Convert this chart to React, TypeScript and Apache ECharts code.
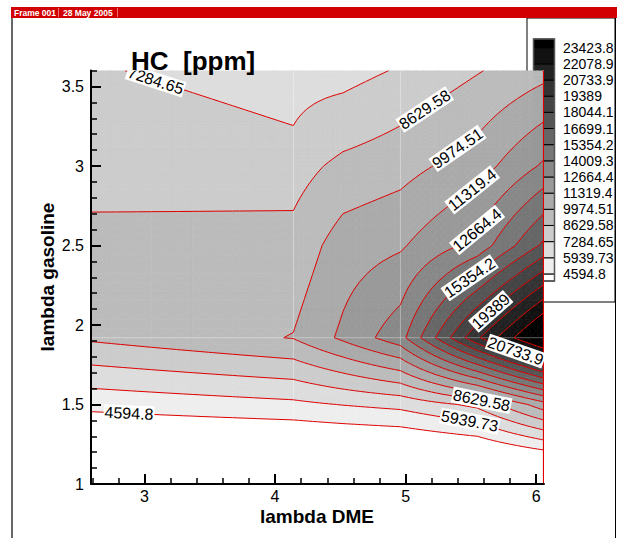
import React, { useEffect, useRef } from "react";
import * as echarts from "echarts";

// ---- data ----
const lambdaDME = [2.59, 4.14, 4.52, 4.96, 5.55, 6.06];
const lambdaGasoline = [1.0, 1.5, 1.92, 2.5, 3.0, 3.25, 3.6];
const hcAt100 = [420, 300, 180, 120, 60, 0];
const hcAt150 = [5007, 5628, 5988, 6334, 7617, 10734];
const hcAt192 = [8850, 10030, 11590, 13505, 20500, 25830];
const hcAt250 = [9100, 9070, 10630, 11150, 13160, 17000];
const hcAt300 = [7979, 8068, 8990, 9470, 10670, 12887];
const hcAt325 = [7800, 7290, 7987, 8640, 9783, 11487];
const hcAt360 = [7370, 6860, 6815, 7405, 8540, 9526];
const hcRows = [hcAt100, hcAt150, hcAt192, hcAt250, hcAt300, hcAt325, hcAt360];

const contourLevels = [4594.8, 5939.73, 7284.65, 8629.58, 9974.51, 11319.4, 12664.4, 14009.3, 15354.2, 16699.1, 18044.1, 19389, 20733.9, 22078.9, 23423.8];
const levelTexts = ["4594.8", "5939.73", "7284.65", "8629.58", "9974.51", "11319.4", "12664.4", "14009.3", "15354.2", "16699.1", "18044.1", "19389", "20733.9", "22078.9", "23423.8"];

const xMajorTicks = [3, 4, 5, 6];
const xMinorTicks = [2.6, 2.8, 3.2, 3.4, 3.6, 3.8, 4.2, 4.4, 4.6, 4.8, 5.2, 5.4, 5.6, 5.8, 6.0];
const yMajorTicks = [1, 1.5, 2, 2.5, 3, 3.5];
const yMinorTicks = [1.1, 1.2, 1.3, 1.4, 1.6, 1.7, 1.8, 1.9, 2.1, 2.2, 2.3, 2.4, 2.6, 2.7, 2.8, 2.9, 3.1, 3.2, 3.3, 3.4, 3.6];

// contour label anchors: level index and approximate place (data units)
const labelLevel = [2, 3, 4, 5, 6, 8, 11, 12, 3, 1, 0];
const labelAtX = [3.08, 5.15, 5.39, 5.52, 5.51, 5.58, 5.70, 5.86, 5.58, 5.50, 2.83];
const labelAtY = [3.56, 3.37, 3.11, 2.86, 2.60, 2.21, 2.04, 1.89, 1.51, 1.39, 1.43];

const seamX = [4.14, 4.96];
const seamY = [1.92];

const X_MIN = 2.59, X_MAX = 6.06, Y_MIN = 1, Y_MAX = 3.6;
const FONT = "'Liberation Sans', Arial, Helvetica, sans-serif";

const grayOf = (k: number) => {
  const g = Math.max(0, 255 - 17 * k);
  return `rgb(${g},${g},${g})`;
};
const bandOf = (z: number) => {
  let k = 0;
  while (k < contourLevels.length && z >= contourLevels[k]) k++;
  return k;
};

type P = [number, number, number];

function clip(poly: P[], c: number, keepAbove: boolean): P[] {
  const out: P[] = [];
  const n = poly.length;
  for (let i = 0; i < n; i++) {
    const a = poly[i];
    const b = poly[(i + 1) % n];
    const ina = keepAbove ? a[2] >= c : a[2] <= c;
    const inb = keepAbove ? b[2] >= c : b[2] <= c;
    if (ina) out.push(a);
    if (ina !== inb) {
      const t = (c - a[2]) / (b[2] - a[2]);
      out.push([a[0] + t * (b[0] - a[0]), a[1] + t * (b[1] - a[1]), c]);
    }
  }
  return out;
}

function chain(segs: number[][][]): number[][][] {
  const key = (p: number[]) => Math.round(p[0] * 50) + "," + Math.round(p[1] * 50);
  const map = new Map<string, number[]>();
  segs.forEach((s, i) => {
    for (const p of s) {
      const k = key(p);
      if (!map.has(k)) map.set(k, []);
      map.get(k)!.push(i);
    }
  });
  const used = new Array(segs.length).fill(false);
  const lines: number[][][] = [];
  for (let i = 0; i < segs.length; i++) {
    if (used[i]) continue;
    used[i] = true;
    let line = [segs[i][0], segs[i][1]];
    for (let dir = 0; dir < 2; dir++) {
      for (;;) {
        const end = line[line.length - 1];
        const ek = key(end);
        const cand = (map.get(ek) || []).find((j) => !used[j]);
        if (cand === undefined) break;
        used[cand] = true;
        const s = segs[cand];
        line.push(key(s[0]) === ek ? s[1] : s[0]);
      }
      line.reverse();
    }
    lines.push(line);
  }
  return lines;
}

function renderContour(_params: any, api: any) {
  const children: any[] = [];
  const NS = 10;
  const segs: number[][][][] = contourLevels.map(() => []);

  const tri = (t: P[]) => {
    const zs = t.map((p) => p[2]);
    const zmin = Math.min(...zs), zmax = Math.max(...zs);
    const kmin = bandOf(zmin), kmax = bandOf(zmax);
    for (let k = kmin; k <= kmax; k++) {
      let poly: P[] = t;
      if (k > 0) poly = clip(poly, contourLevels[k - 1], true);
      if (poly.length >= 3 && k < contourLevels.length) poly = clip(poly, contourLevels[k], false);
      if (poly.length >= 3) {
        const col = grayOf(k);
        children.push({
          type: "polygon",
          silent: true,
          shape: { points: poly.map((p) => [p[0], p[1]]) },
          style: { fill: col, stroke: col, lineWidth: 0.7 },
        });
      }
    }
    for (let m = 0; m < contourLevels.length; m++) {
      const c = contourLevels[m];
      if (c <= zmin || c >= zmax) continue;
      const pts: number[][] = [];
      for (let e = 0; e < 3; e++) {
        const a = t[e], b = t[(e + 1) % 3];
        if ((a[2] < c) !== (b[2] < c)) {
          const u = (c - a[2]) / (b[2] - a[2]);
          pts.push([a[0] + u * (b[0] - a[0]), a[1] + u * (b[1] - a[1])]);
        }
      }
      if (pts.length === 2) segs[m].push(pts);
    }
  };

  for (let j = 0; j < lambdaGasoline.length - 1; j++) {
    for (let i = 0; i < lambdaDME.length - 1; i++) {
      const z00 = hcRows[j][i], z10 = hcRows[j][i + 1], z01 = hcRows[j + 1][i], z11 = hcRows[j + 1][i + 1];
      const grid: P[][] = [];
      for (let a = 0; a <= NS; a++) {
        const row: P[] = [];
        const v = a / NS;
        for (let b = 0; b <= NS; b++) {
          const u = b / NS;
          const x = lambdaDME[i] + u * (lambdaDME[i + 1] - lambdaDME[i]);
          const y = lambdaGasoline[j] + v * (lambdaGasoline[j + 1] - lambdaGasoline[j]);
          const z = z00 * (1 - u) * (1 - v) + z10 * u * (1 - v) + z01 * (1 - u) * v + z11 * u * v;
          const px = api.coord([x, y]);
          row.push([px[0], px[1], z]);
        }
        grid.push(row);
      }
      for (let a = 0; a < NS; a++) {
        for (let b = 0; b < NS; b++) {
          const p00 = grid[a][b], p10 = grid[a][b + 1], p01 = grid[a + 1][b], p11 = grid[a + 1][b + 1];
          tri([p00, p10, p11]);
          tri([p00, p11, p01]);
        }
      }
    }
  }

  // faint cell seams
  for (const sx of seamX) {
    const p1 = api.coord([sx, Y_MIN]), p2 = api.coord([sx, Y_MAX]);
    children.push({ type: "line", silent: true, shape: { x1: p1[0], y1: p1[1], x2: p2[0], y2: p2[1] }, style: { stroke: "rgba(255,255,255,0.35)", lineWidth: 1 } });
  }
  for (const sy of seamY) {
    const p1 = api.coord([X_MIN, sy]), p2 = api.coord([X_MAX, sy]);
    children.push({ type: "line", silent: true, shape: { x1: p1[0], y1: p1[1], x2: p2[0], y2: p2[1] }, style: { stroke: "rgba(255,255,255,0.35)", lineWidth: 1 } });
  }

  const chained = segs.map((s) => chain(s));
  chained.forEach((lines) => {
    lines.forEach((line) => {
      children.push({
        type: "polyline",
        silent: true,
        shape: { points: line },
        style: { stroke: "#e00000", lineWidth: 1, fill: null, lineJoin: "round" },
      });
    });
  });

  // right boundary line
  {
    const p1 = api.coord([X_MAX, Y_MIN]), p2 = api.coord([X_MAX, Y_MAX]);
    children.push({ type: "line", silent: true, shape: { x1: p1[0] - 0.5, y1: p1[1], x2: p2[0] - 0.5, y2: p2[1] }, style: { stroke: "#e00000", lineWidth: 1.2 } });
  }

  // contour labels
  for (let n = 0; n < labelLevel.length; n++) {
    const m = labelLevel[n];
    const target = api.coord([labelAtX[n], labelAtY[n]]);
    let best: number[] | null = null;
    let bestD = Infinity;
    let ang = 0;
    for (const line of chained[m]) {
      for (let q = 0; q < line.length; q++) {
        const d = Math.hypot(line[q][0] - target[0], line[q][1] - target[1]);
        if (d < bestD) {
          bestD = d;
          best = line[q];
          const qa = line[Math.max(0, q - 3)], qb = line[Math.min(line.length - 1, q + 3)];
          ang = Math.atan2(-(qb[1] - qa[1]), qb[0] - qa[0]);
        }
      }
    }
    if (!best) continue;
    if (ang > Math.PI / 2) ang -= Math.PI;
    if (ang < -Math.PI / 2) ang += Math.PI;
    children.push({
      type: "text",
      silent: true,
      x: best[0],
      y: best[1],
      rotation: ang,
      style: {
        text: levelTexts[m],
        fill: "#000",
        font: `16px ${FONT}`,
        align: "center",
        verticalAlign: "middle",
        backgroundColor: "#fff",
        padding: [0, 1, 0, 1],
      },
    });
  }

  return { type: "group", children };
}

function buildLegend() {
  const els: any[] = [];
  const barX = 533.5, barW = 21;
  const top = 39, first = 47.7, step = 16.16, bottom = 281;
  const nL = contourLevels.length;
  const yOfLevel = (m: number) => first + (nL - 1 - m) * step;
  for (let k = 0; k <= nL; k++) {
    const yTop = k === nL ? top : yOfLevel(k);
    const yBot = k === 0 ? bottom : yOfLevel(k - 1);
    els.push({ type: "rect", shape: { x: barX, y: yTop, width: barW, height: yBot - yTop }, style: { fill: grayOf(k), stroke: "#000", lineWidth: 1 } });
  }
  els.push({ type: "rect", shape: { x: barX, y: top, width: barW, height: bottom - top }, style: { fill: null, stroke: "#555", lineWidth: 1.5 } });
  for (let m = 0; m < nL; m++) {
    els.push({ type: "text", x: 563, y: yOfLevel(m), style: { text: levelTexts[m], fill: "#000", font: `14px ${FONT}`, align: "left", verticalAlign: "middle" } });
  }
  els.push({ type: "rect", shape: { x: 527, y: 18, width: 88, height: 284 }, style: { fill: null, stroke: "#000", lineWidth: 1 } });
  return els;
}

export default function App() {
  const ref = useRef<HTMLDivElement>(null);
  useEffect(() => {
    if (!ref.current) return;
    const chart = echarts.init(ref.current, null, { renderer: "svg" });
    const option: any = {
      animation: false,
      backgroundColor: "#fff",
      grid: { left: 91, right: 73, top: 70.6, bottom: 54, containLabel: false },
      xAxis: [
        {
          type: "value", min: X_MIN, max: X_MAX, position: "bottom", z: 10,
          axisLine: { show: true, onZero: false, lineStyle: { color: "#000", width: 2 } },
          axisTick: { show: true, inside: true, length: 10, customValues: xMajorTicks, lineStyle: { color: "#000", width: 2 } },
          axisLabel: { show: true, customValues: xMajorTicks, color: "#000", fontSize: 16, fontFamily: FONT, margin: 4 },
          splitLine: { show: false },
        },
        {
          type: "value", min: X_MIN, max: X_MAX, position: "bottom", z: 10,
          axisLine: { show: false, onZero: false },
          axisTick: { show: true, inside: true, length: 6, customValues: xMinorTicks, lineStyle: { color: "#000", width: 1.5 } },
          axisLabel: { show: false },
          splitLine: { show: false },
        },
      ],
      yAxis: [
        {
          type: "value", min: Y_MIN, max: Y_MAX, position: "left", z: 10,
          axisLine: { show: true, onZero: false, lineStyle: { color: "#000", width: 2 } },
          axisTick: { show: true, inside: true, length: 10, customValues: yMajorTicks, lineStyle: { color: "#000", width: 2 } },
          axisLabel: { show: true, customValues: yMajorTicks, color: "#000", fontSize: 16, fontFamily: FONT, margin: 7 },
          splitLine: { show: false },
        },
        {
          type: "value", min: Y_MIN, max: Y_MAX, position: "left", z: 10,
          axisLine: { show: false, onZero: false },
          axisTick: { show: true, inside: true, length: 6, customValues: yMinorTicks, lineStyle: { color: "#000", width: 1.5 } },
          axisLabel: { show: false },
          splitLine: { show: false },
        },
      ],
      series: [
        {
          type: "custom",
          xAxisIndex: 0,
          yAxisIndex: 0,
          clip: true,
          silent: true,
          z: 1,
          data: [[X_MIN, Y_MIN]],
          renderItem: renderContour,
        },
      ],
      graphic: [
        { type: "rect", z: 100, shape: { x: 11, y: 7, width: 606, height: 11 }, style: { fill: "#d20000" } },
        { type: "text", z: 101, x: 14, y: 12.8, style: { text: "Frame 001", fill: "#fff", font: `bold 8.5px ${FONT}`, verticalAlign: "middle" } },
        { type: "rect", z: 101, shape: { x: 58, y: 8, width: 0.8, height: 9 }, style: { fill: "#f09090" } },
        { type: "text", z: 101, x: 63, y: 12.8, style: { text: "28 May 2005", fill: "#fff", font: `bold 8.5px ${FONT}`, verticalAlign: "middle" } },
        { type: "rect", z: 101, shape: { x: 117, y: 8, width: 0.8, height: 9 }, style: { fill: "#f09090" } },
        { type: "line", z: 100, shape: { x1: 12, y1: 18, x2: 12, y2: 538 }, style: { stroke: "#000", lineWidth: 1.2 } },
        { type: "line", z: 100, shape: { x1: 615.5, y1: 18, x2: 615.5, y2: 538 }, style: { stroke: "#000", lineWidth: 1 } },
        { type: "text", z: 100, x: 131, y: 48, style: { text: "HC  [ppm]", fill: "#000", font: `bold 26px ${FONT}`, verticalAlign: "alphabetic" } },
        { type: "text", z: 100, x: 317, y: 516, style: { text: "lambda DME", fill: "#000", font: `bold 19px ${FONT}`, align: "center", verticalAlign: "middle" } },
        { type: "text", z: 100, x: 47.5, y: 277, rotation: Math.PI / 2, style: { text: "lambda gasoline", fill: "#000", font: `bold 19px ${FONT}`, align: "center", verticalAlign: "middle" } },
        { type: "group", z: 100, children: buildLegend() },
      ],
    };
    chart.setOption(option);
    return () => chart.dispose();
  }, []);
  return <div ref={ref} style={{ position: "fixed", left: 0, top: 0, width: 617, height: 538, background: "#fff" }} />;
}
